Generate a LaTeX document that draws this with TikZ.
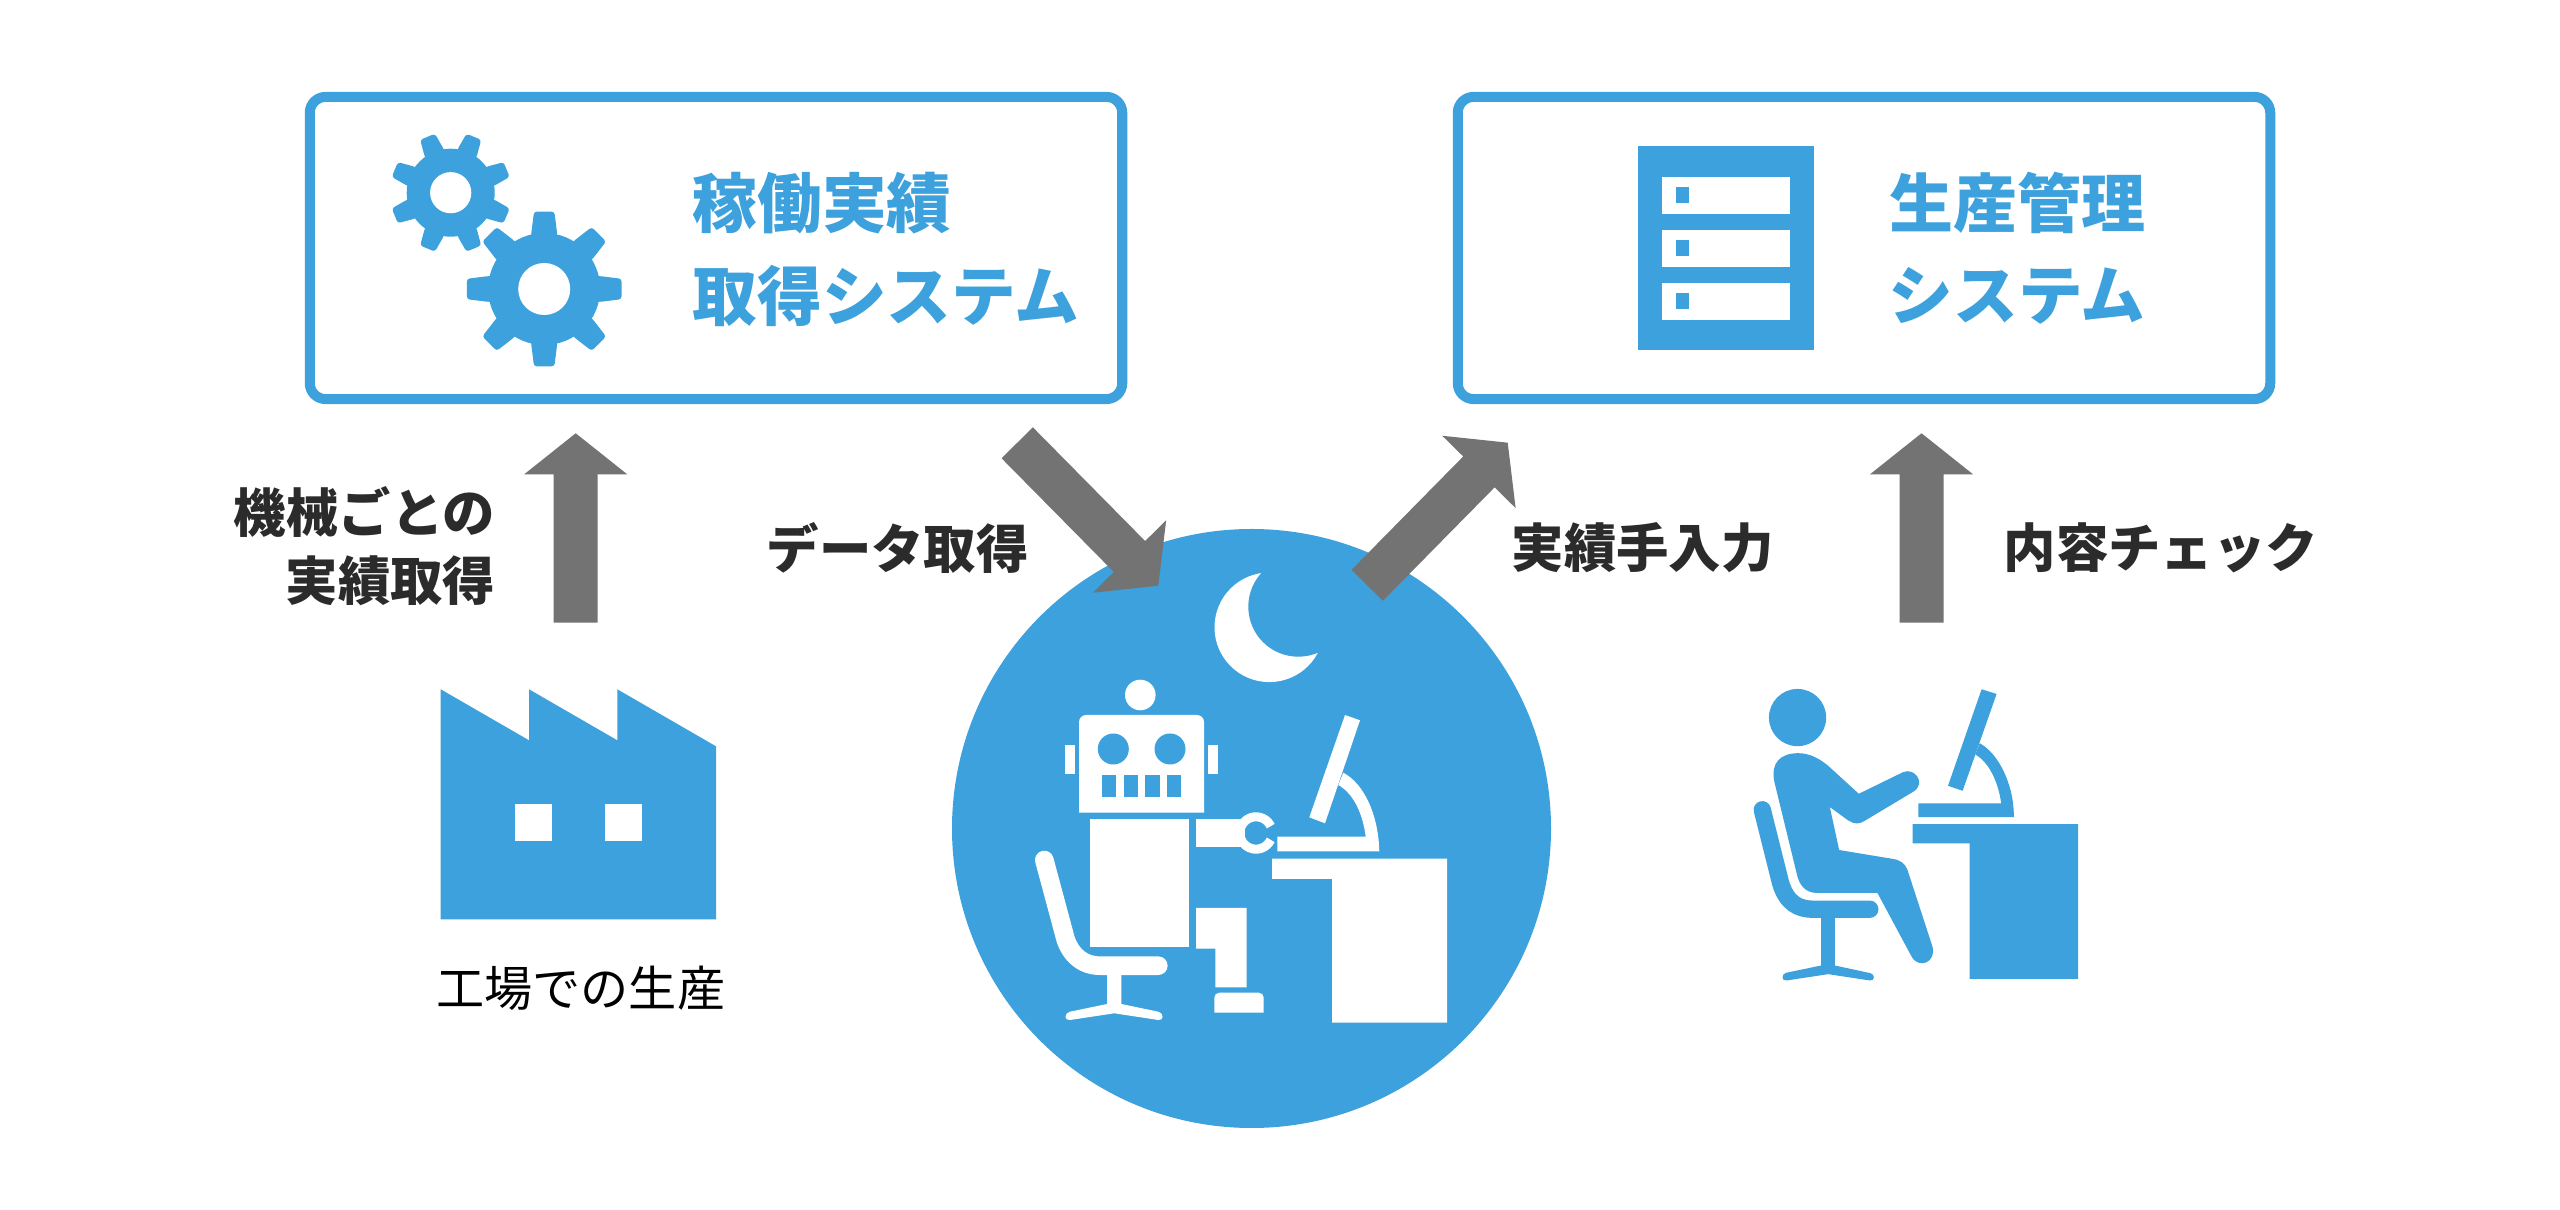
\documentclass[tikz,border=0pt]{standalone}
\usepackage{fontspec}
\usetikzlibrary{calc}
\newfontfamily\jp{Noto Sans CJK JP}
\definecolor{iconblue}{HTML}{3CA1DC}
\definecolor{arrowgray}{HTML}{737373}
\definecolor{labeldark}{HTML}{2B2B2B}
\newcommand{\blockarrow}[2]{%
  \coordinate (hb) at ($(#2)!0.41cm!(#1)$);
  \fill[arrowfill] ($(#1)!0.22cm!90:(#2)$) -- ($(hb)!0.22cm!90:(#2)$) -- ($(hb)!0.515cm!90:(#2)$) -- (#2)
    -- ($(hb)!0.515cm!-90:(#2)$) -- ($(hb)!0.22cm!-90:(#2)$) -- ($(#1)!0.22cm!-90:(#2)$) -- cycle;}
\newcommand{\geartooth}[6]{% centre, root, tip, phase, tipwidth angle, hole
  \fill[bluefill] (#1) circle[radius=#2];
  \foreach \a in {0,45,...,315}{
    \fill[bluefill,rounded corners=0.8pt] ($(#1)+(\a+#4-13.5:#2-3)$) -- ($(#1)+(\a+#4-13.5:#2)$) -- ($(#1)+(\a+#4-#5:#3)$) -- ($(#1)+(\a+#4+#5:#3)$) -- ($(#1)+(\a+#4+13.5:#2)$) -- ($(#1)+(\a+#4+13.5:#2-3)$) -- cycle;}
  \fill[white] (#1) circle[radius=#6];}
\tikzset{
  bluefill/.style={fill=iconblue},
  whitefill/.style={fill=white},
  arrowfill/.style={fill=arrowgray},
  sysbox/.style={draw=iconblue,line width=2.845pt,rounded corners=4.5pt,fill=white,inner sep=0pt,minimum width=8.12cm,minimum height=3.02cm},
  boxtext/.style={font=\jp\bfseries\fontsize{18.4pt}{20pt}\selectfont,text=iconblue,inner sep=0pt,anchor=west},
  boxtextsmall/.style={boxtext,font=\jp\bfseries\fontsize{18.2pt}{20pt}\selectfont},
  darklabel/.style={font=\jp\bfseries\fontsize{14.9pt}{16pt}\selectfont,text=labeldark,inner sep=0pt},
  plainlabel/.style={font=\jp\fontsize{13.7pt}{15pt}\selectfont,text=black,inner sep=0pt},
}
\begin{document}
\begin{tikzpicture}[x=0.01cm,y=-0.01cm]
\useasboundingbox (0,0) rectangle (2560,1210);
\fill[white] (0,0) rectangle (2560,1210);

% system boxes
\node[sysbox] (acq) at (716,248) {};
\node[sysbox] (mgmt) at (1864,248) {};
\node[boxtext] (acq1) at (692,203) {稼働実績};
\node[boxtext] (acq2) at (692,296) {取得システム};
\node[boxtextsmall] (mgmt1) at (1889,203) {生産管理};
\node[boxtext] (mgmt2) at (1888,296) {システム};

% gears
\coordinate (gs) at (450.7,192.7);
\coordinate (gb) at (544.2,289);
\geartooth{gs}{44}{61}{22.5}{7.5}{20.6}
\geartooth{gb}{56}{78}{0}{7.5}{26}

% server
\fill[bluefill] (1638,146) rectangle (1814,350);
\foreach \t/\m in {177/187,230/240,283/293}{
  \fill[whitefill] (1661.7,\t) rectangle (1790,\t+37);
  \fill[bluefill] (1676,\m) rectangle (1689,\m+16);}

% factory
\fill[bluefill] (440.7,689.3) -- (529,740.3) -- (529,689.3) -- (617.3,740.3) -- (617.3,689.3) -- (716,746.3) -- (716,919.3) -- (440.7,919.3) -- cycle;
\fill[whitefill] (514.7,804) rectangle (551.7,841);
\fill[whitefill] (605.3,804) rectangle (642.3,841);
\node[plainlabel] (factory) at (580.7,988) {工場での生産};

% robot scene
\fill[bluefill] (1251.5,828.5) circle[radius=299.5];
\fill[whitefill] (1269.3,627.3) circle[radius=54.8];
\fill[bluefill] (1298.3,606.7) circle[radius=50];
\fill[whitefill] (1140.3,695) circle[radius=15.3];
\fill[whitefill] (1079,812.7) [rounded corners=2pt] -- (1079,715) -- (1204,715) [sharp corners] -- (1204,812.7) -- cycle;
\fill[bluefill] (1113.3,749) circle[radius=15.5];
\fill[bluefill] (1170,749) circle[radius=15.5];
\foreach \x in {1102,1123.7,1145.3,1167}{\fill[bluefill] (\x,775) rectangle (\x+14.3,796.7);}
\fill[whitefill] (1065.3,745) rectangle (1075,773.7);
\fill[whitefill] (1208.3,745) rectangle (1218,773.7);
\fill[whitefill] (1090.3,819.3) rectangle (1188.7,947.3);
\fill[whitefill] (1196,819.3) rectangle (1245,847);
\coordinate (claw) at (1256,833);
\draw[white,line width=2.56pt] ($(claw)+(25:16.2)$) arc[start angle=25,end angle=335,radius=16.2];
\fill[whitefill] (1345,715) -- (1360,720.3) -- (1325,823.3) -- (1309.3,817.3) -- cycle;
\fill[whitefill] (1277.3,836.7) -- (1365.7,836.7) .. controls (1362.7,813.3) and (1353.3,793.3) .. (1338.3,785) -- (1343.3,772.7) .. controls (1363.3,783.3) and (1378.3,813.3) .. (1379.3,851.3) -- (1277.3,851.3) -- cycle;
\fill[whitefill] (1272,858.7) -- (1447,858.7) -- (1447,1022.7) -- (1332,1022.7) -- (1332,879) -- (1272,879) -- cycle;
\fill[whitefill] (1196,908) -- (1246.7,908) -- (1246.7,987.3) -- (1215.3,987.3) -- (1215.3,948.7) -- (1196,948.7) -- cycle;
\fill[whitefill] (1214.3,1012.7) [rounded corners=1.4pt] -- (1214.3,992.7) -- (1263.7,992.7) [sharp corners] -- (1263.7,1012.7) -- cycle;
\draw[white,line width=5.3pt,line cap=round] (1044.3,860) -- (1064,933.3) .. controls (1068.3,953.3) and (1081.7,965.7) .. (1100,965.7) -- (1158.3,965.7);
\fill[whitefill] (1107,970) -- (1121.3,970) -- (1121.3,1004) -- (1158.3,1011.7) .. controls (1164,1013) and (1164,1021) .. (1158.3,1020) -- (1114.3,1013.3) -- (1070,1020) .. controls (1064,1021) and (1064,1013) .. (1070,1011.7) -- (1107,1004) -- cycle;

% person scene
\begin{scope}[shift={(1730,660)},x=0.003333cm,y=-0.003333cm]
\fill[bluefill] (203,173) circle[radius=86];
\fill[bluefill] (133,365) .. controls (122,310) and (150,280) .. (205,280) .. controls (240,280) and (270,297) .. (295,318) -- (387,402) -- (520,337) .. controls (555,322) and (590,370) .. (552,395) -- (405,483) .. controls (388,495) and (372,493) .. (355,482) -- (300,442) -- (328,571) -- (485,597) .. controls (510,600) and (525,610) .. (533,630) -- (608,860) .. controls (622,910) and (565,930) .. (545,890) -- (443,700) -- (262,700) .. controls (225,700) and (207,675) .. (200,640) -- cycle;
\draw[iconblue,line width=4.93pt,line cap=round] (97,450) -- (152,670) .. controls (170,730) and (205,749) .. (250,749) -- (420,749);
\fill[bluefill] (274,760) -- (315,760) -- (315,918) -- (422,941) .. controls (436,944) and (436,965) .. (420,963) -- (295,944) -- (170,963) .. controls (154,965) and (154,944) .. (168,940) -- (274,918) -- cycle;
\fill[bluefill] (756,88) -- (801,102) -- (699,393) -- (655,378) -- cycle;
\fill[bluefill] (566,431) -- (815,431) .. controls (805,360) and (775,305) .. (737,284) -- (750,250) .. controls (805,280) and (853,370) .. (853,472) -- (566,472) -- cycle;
\fill[bluefill] (549,493) -- (1046,493) -- (1046,958) -- (720,958) -- (720,551) -- (549,551) -- cycle;
\end{scope}

% block arrows
\coordinate (t1) at (575.7,622.7);  \coordinate (h1) at (575.7,433.3);
\coordinate (t2) at (1017.2,442.8); \coordinate (h2) at (1158.3,585.7);
\coordinate (t3) at (1367.2,585.3); \coordinate (h3) at (1507.7,442.7);
\coordinate (t4) at (1921.5,622.7); \coordinate (h4) at (1921.5,433.3);
\blockarrow{t1}{h1}
\blockarrow{t2}{h2}
\blockarrow{t3}{h3}
\blockarrow{t4}{h4}

% arrow labels
\node[darklabel,anchor=east] (lab1a) at (496,512) {機械ごとの};
\node[darklabel,anchor=east] (lab1b) at (496,581) {実績取得};
\node[darklabel,anchor=west] (lab2) at (766,548) {データ取得};
\node[darklabel,anchor=west] (lab3) at (1511,548) {実績手入力};
\node[darklabel,anchor=west] (lab4) at (2003,548) {内容チェック};
\end{tikzpicture}
\end{document}
